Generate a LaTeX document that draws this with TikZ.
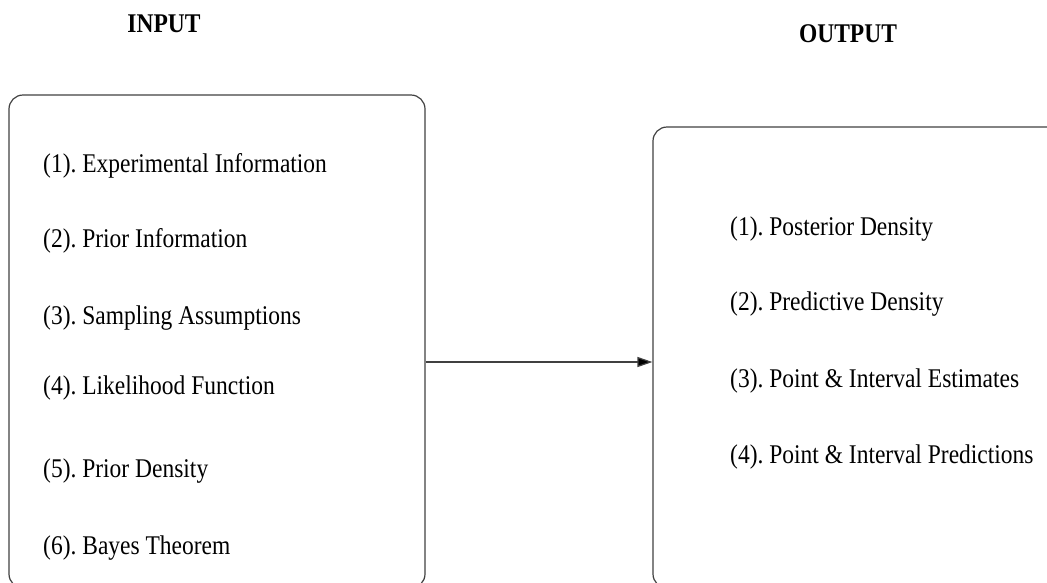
\documentclass[tikz,border=0pt]{standalone}
\usepackage{fontspec}
\setmainfont{Liberation Serif}[FakeStretch=0.87]
\usetikzlibrary{arrows.meta}
\frenchspacing

\tikzset{
  box/.style={draw=black!75, line width=1.2pt, rounded corners=14pt, inner sep=0pt},
  item/.style={anchor=base west, inner sep=0pt, font=\fontsize{27}{32}\selectfont},
  title/.style={anchor=base, inner sep=0pt, font=\fontsize{27}{32}\selectfont\bfseries}
}

\begin{document}
\begin{tikzpicture}[x=1pt, y=-1pt]
  \useasboundingbox (0,0) rectangle (1047,582);
  \clip (0,0) rectangle (1047,582);
  % ---- Titles ----
  \node[title] (intitle) at (164,32) {INPUT};
  \node[title] (outtitle) at (848,42) {OUTPUT};
  % ---- Boxes ----
  \node[box, minimum width=416pt, minimum height=493pt] (inbox) at (217,341.5) {};
  \node[box, minimum width=409pt, minimum height=461pt] (outbox) at (857.5,357.5) {};
  % Input items
  \foreach \y/\txt [count=\i] in {172/{(1). Experimental Information},
      247/{(2). Prior Information}, 324/{(3). Sampling Assumptions},
      394/{(4). Likelihood Function}, 477/{(5). Prior Density},
      554/{(6). Bayes Theorem}} {
    \node[item] (in\i) at (43,\y) {\txt};
  }
  % Output items
  \foreach \y/\txt [count=\i] in {235/{(1). Posterior Density},
      310/{(2). Predictive Density}, 387/{(3). Point \& Interval Estimates},
      463/{(4). Point \& Interval Predictions}} {
    \node[item] (out\i) at (730,\y) {\txt};
  }
  % Arrow
  \coordinate (mid) at (540,362);
  \draw[black!75, line width=1.2pt, -{Triangle[length=15pt, width=10pt, fill=black]}]
    (inbox.east |- mid) -- (outbox.west |- mid);
\end{tikzpicture}
\end{document}
